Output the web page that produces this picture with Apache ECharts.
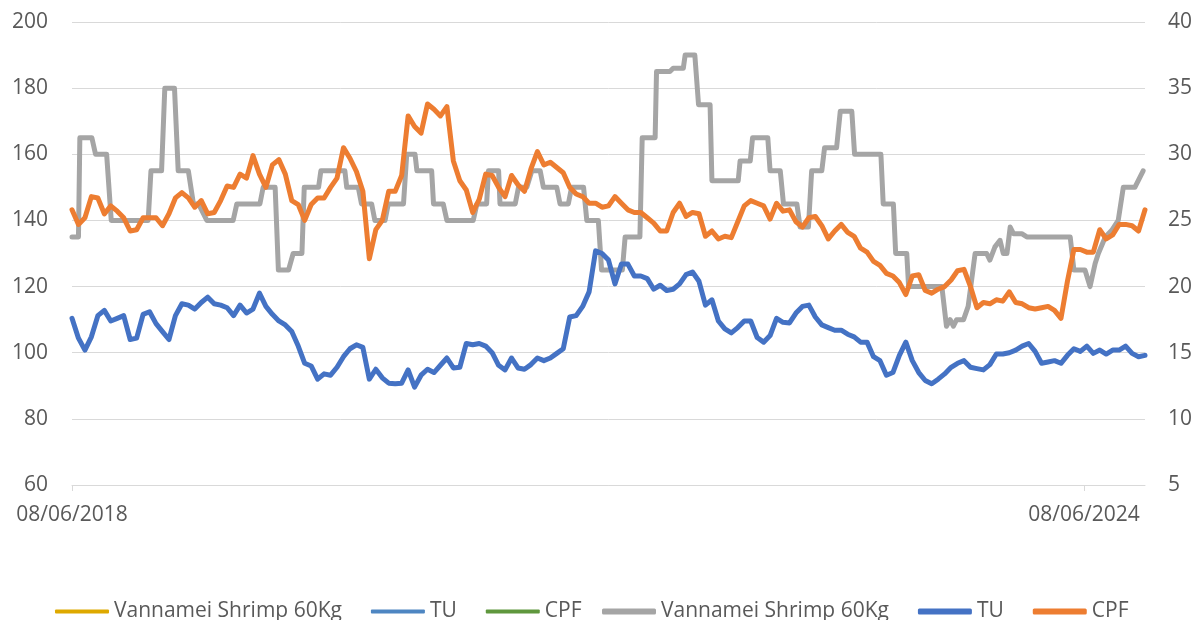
<!DOCTYPE html>
<html><head><meta charset="utf-8">
<script src="https://cdn.jsdelivr.net/npm/echarts@6/dist/echarts.min.js"></script>
<style>html,body{margin:0;padding:0;background:#fff}#chart{width:1196px;height:620px}</style>
</head><body><div id="chart"></div>
<script>
// ---- data ----
// x positions are days after 08/06/2018
const endOffsetDays = 2324;                  // last observation, days after start
const sampleStepDays = 14;                   // spacing of TU / CPF readings
const tickOffsetsDays = [0, 2192];           // 08/06/2018, 08/06/2024
const tickLabels = ['08/06/2018', '08/06/2024'];
const seriesNames = ['Vannamei Shrimp 60Kg', 'TU', 'CPF'];

// Vannamei shrimp 60Kg price (left axis): vertices, days after start
const shrimpDays = [
  0,14,17,43,51,75,85,165,171,194,
  201,222,230,252,263,274,292,349,357,407,
  414,440,447,469,479,498,503,534,539,591,
  595,620,627,649,656,678,685,718,725,743,
  747,779,783,804,812,869,877,898,902,924,
  927,960,967,985,996,1014,1021,1050,1057,1075,
  1082,1108,1115,1140,1147,1192,1198,1230,1235,1263,
  1266,1295,1302,1324,1328,1349,1357,1382,1386,1443,
  1447,1469,1474,1507,1512,1534,1541,1570,1577,1595,
  1602,1624,1630,1656,1664,1689,1695,1752,1757,1779,
  1784,1808,1812,1884,1894,1902,1909,1916,1931,1941,
  1956,1981,1988,1999,2010,2017,2025,2032,2039,2057,
  2068,2162,2170,2194,2205,2216,2223,2238,2252,2266,
  2277,2302,2320
];
const shrimpValues = [
  135,135,165,165,160,160,140,140,155,155,
  180,180,155,155,145,145,140,140,145,145,
  150,150,125,125,130,130,150,150,155,155,
  150,150,145,145,140,140,145,145,160,160,
  155,155,145,145,140,140,145,145,155,155,
  145,145,150,150,155,155,150,150,145,145,
  150,150,140,140,125,125,135,135,165,165,
  185,185,186,186,190,190,175,175,152,152,
  158,158,165,165,155,155,145,145,138,138,
  155,155,162,162,173,173,160,160,145,145,
  130,130,120,120,108,110,108,110,110,114,
  130,130,128,132,134,130,130,138,136,136,
  135,135,125,125,120,127,130,135,137,140,
  150,150,155
];

// TU share price (right axis), one reading every 14 days
const tuValues = [
  17.6,16.1,15.2,16.2,17.8,18.2,17.4,17.6,17.8,16.0,
  16.1,17.9,18.1,17.2,16.6,16.0,17.8,18.7,18.6,18.3,
  18.8,19.2,18.7,18.6,18.4,17.8,18.6,18.0,18.3,19.5,
  18.5,17.9,17.4,17.1,16.6,15.5,14.2,14.0,13.0,13.4,
  13.3,13.9,14.7,15.3,15.6,15.4,13.0,13.75,13.1,12.7,
  12.65,12.7,13.7,12.4,13.3,13.75,13.5,14.05,14.6,13.85,
  13.9,15.7,15.6,15.7,15.5,15.0,14.05,13.7,14.6,13.85,
  13.75,14.1,14.6,14.4,14.6,14.95,15.3,17.7,17.8,18.5,
  19.6,22.7,22.5,22.0,20.2,21.7,21.7,20.8,20.8,20.6,
  19.8,20.1,19.7,19.8,20.2,20.9,21.1,20.4,18.6,19.0,
  17.4,16.8,16.5,16.9,17.4,17.4,16.15,15.8,16.3,17.6,
  17.3,17.25,18.0,18.5,18.6,17.7,17.1,16.9,16.7,16.7,
  16.4,16.2,15.8,15.8,14.7,14.4,13.3,13.5,14.8,15.8,
  14.4,13.5,12.9,12.65,13.0,13.4,13.9,14.2,14.4,13.9,
  13.8,13.7,14.1,14.9,14.9,15.0,15.2,15.5,15.7,15.1,
  14.2,14.3,14.4,14.2,14.8,15.3,15.1,15.5,14.95,15.2,
  14.9,15.2,15.2,15.5,14.95,14.7,14.8
];

// CPF share price (right axis), one reading every 14 days
const cpfValues = [
  25.8,24.7,25.2,26.8,26.7,25.5,26.1,25.7,25.2,24.2,
  24.3,25.2,25.2,25.2,24.6,25.5,26.7,27.1,26.7,26.0,
  26.5,25.5,25.6,26.5,27.6,27.5,28.5,28.2,29.9,28.5,
  27.5,29.2,29.6,28.5,26.5,26.2,25.0,26.2,26.7,26.7,
  27.5,28.2,30.5,29.7,28.7,27.2,22.1,24.3,25.0,27.2,
  27.2,28.4,32.9,32.1,31.6,33.8,33.4,32.9,33.6,29.5,
  28.0,27.3,25.6,26.6,28.5,28.4,27.5,26.8,28.4,27.7,
  27.2,28.9,30.2,29.2,29.4,29.0,28.6,27.5,27.0,26.8,
  26.3,26.3,26.0,26.1,26.8,26.3,25.8,25.6,25.6,25.2,
  24.8,24.2,24.2,25.6,26.3,25.3,25.6,25.5,23.8,24.2,
  23.6,23.8,23.7,24.9,26.1,26.5,26.3,26.1,25.1,26.3,
  25.7,25.8,24.9,24.5,25.2,25.3,24.6,23.6,24.2,24.7,
  24.1,23.8,22.9,22.6,21.9,21.6,21.0,20.8,20.3,19.4,
  20.8,20.9,19.7,19.5,19.8,20.0,20.5,21.2,21.3,20.0,
  18.4,18.8,18.7,19.0,18.9,19.6,18.8,18.7,18.4,18.3,
  18.4,18.5,18.2,17.6,20.4,22.8,22.8,22.6,22.6,24.3,
  23.6,23.9,24.7,24.7,24.6,24.2,25.8
];

// ---- chart ----
const FONT = 'Open Sans';
const TXT = '#595959';
const GRID = '#D9D9D9';

const shrimpData = shrimpDays.map((d, i) => [d, shrimpValues[i]]);
const tuData = tuValues.map((v, i) => [i * sampleStepDays, v]);
const cpfData = cpfValues.map((v, i) => [i * sampleStepDays, v]);

const legendText = { fontSize: 21, color: TXT, fontFamily: FONT };

const option = {
  animation: false,
  backgroundColor: '#ffffff',
  grid: { left: 72, right: 51, top: 22, bottom: 135, containLabel: false },
  legend: [
    {
      left: 55, top: 601, padding: 0, itemWidth: 54, itemHeight: 4, itemGap: 29,
      icon: 'roundRect', selectedMode: false,
      data: seriesNames.map(n => n + ' '),
      formatter: n => n.trim(),
      textStyle: legendText
    },
    {
      left: 602, top: 601, padding: 0, itemWidth: 54, itemHeight: 6, itemGap: 29,
      icon: 'roundRect', selectedMode: false,
      data: seriesNames.slice(),
      textStyle: legendText
    }
  ],
  xAxis: {
    type: 'value',
    min: 0,
    max: endOffsetDays,
    axisLine: { show: true, onZero: false, lineStyle: { color: GRID, width: 1 } },
    axisTick: { show: true, customValues: tickOffsetsDays, length: 6, lineStyle: { color: GRID } },
    axisLabel: {
      customValues: tickOffsetsDays,
      showMinLabel: true, showMaxLabel: true,
      formatter: v => { const k = tickOffsetsDays.indexOf(v); return k >= 0 ? tickLabels[k] : ''; },
      fontSize: 21, color: TXT, fontFamily: FONT, margin: 20
    },
    splitLine: { show: false }
  },
  yAxis: [
    {
      type: 'value', position: 'left', min: 60, max: 200, interval: 20,
      axisLine: { show: false }, axisTick: { show: false },
      axisLabel: { fontSize: 21, color: TXT, fontFamily: FONT, margin: 24 },
      splitLine: { show: true, lineStyle: { color: GRID, width: 1 } }
    },
    {
      type: 'value', position: 'right', min: 5, max: 40, interval: 5,
      axisLine: { show: false }, axisTick: { show: false },
      axisLabel: { fontSize: 21, color: TXT, fontFamily: FONT, margin: 23 },
      splitLine: { show: false }
    }
  ],
  series: [
    { name: seriesNames[0] + ' ', type: 'line', yAxisIndex: 0, data: [], color: '#DEA900', symbol: 'none' },
    { name: seriesNames[1] + ' ', type: 'line', yAxisIndex: 1, data: [], color: '#4E86C2', symbol: 'none' },
    { name: seriesNames[2] + ' ', type: 'line', yAxisIndex: 1, data: [], color: '#5F973D', symbol: 'none' },
    { name: seriesNames[0], type: 'line', yAxisIndex: 0, data: shrimpData, color: '#A5A5A5',
      symbol: 'none', lineStyle: { width: 5, cap: 'round', join: 'round' } },
    { name: seriesNames[1], type: 'line', yAxisIndex: 1, data: tuData, color: '#4472C4',
      symbol: 'none', lineStyle: { width: 5, cap: 'round', join: 'round' } },
    { name: seriesNames[2], type: 'line', yAxisIndex: 1, data: cpfData, color: '#ED7D31',
      symbol: 'none', lineStyle: { width: 5, cap: 'round', join: 'round' } }
  ]
};

const chart = echarts.init(document.getElementById('chart'), null, { renderer: 'canvas' });
chart.setOption(option);
</script>
</body></html>
